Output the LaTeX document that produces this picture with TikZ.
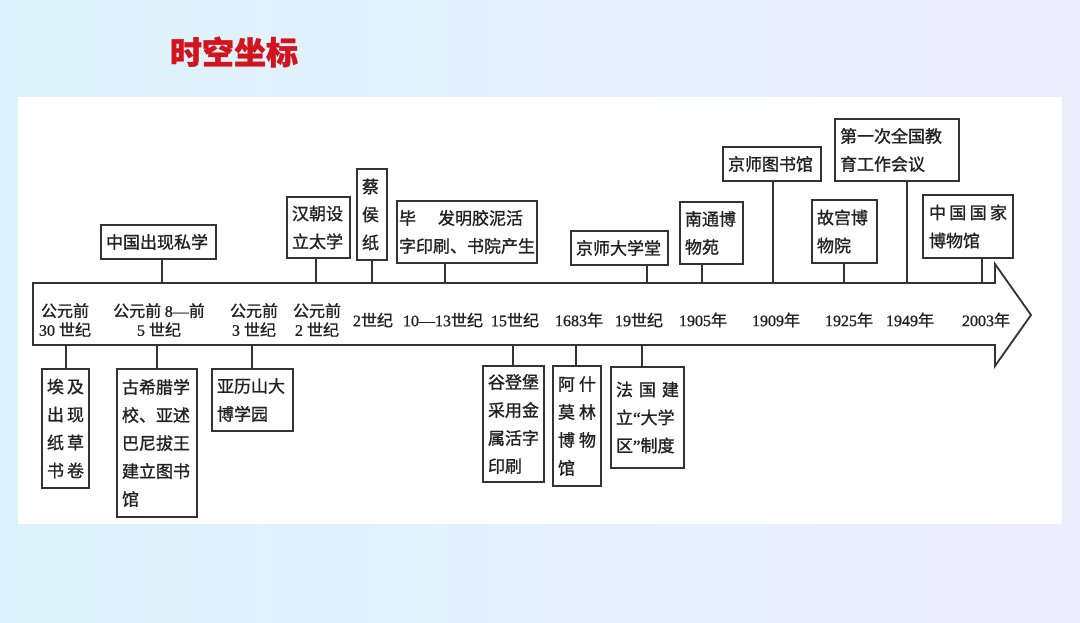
\documentclass[tikz,border=0pt]{standalone}
\usepackage{fontspec}
\setmainfont{Noto Sans CJK SC}[FakeBold=1.2]
\newfontfamily\lat{Liberation Serif}[FakeBold=1.0]
\definecolor{ln}{HTML}{333333}
\definecolor{tx}{HTML}{222222}
\definecolor{ttl}{HTML}{D4141C}
\definecolor{bgA}{HTML}{DBF3FA}
\definecolor{bgB}{HTML}{EEEDFD}
\newcommand{\twoc}[2]{\makebox[\hsize][s]{#1\hfill{}#2}}
\begin{document}
\begin{tikzpicture}[x=1pt,y=-1pt,
  evt/.style={draw=ln, line width=1.7pt, fill=white, inner xsep=5pt, inner ysep=0pt,
    align=left, text=tx, font=\fontsize{17}{28}\selectfont, anchor=center},
  lbl/.style={align=center, text=tx, font=\fontsize{16}{19}\selectfont, inner sep=0pt},
  conn/.style={draw=ln, line width=1.7pt},
  axisarrow/.style={draw=ln, line width=1.8pt, fill=white, line join=miter}]
\useasboundingbox (0,0) rectangle (1080,623);
\shade[left color=bgA, right color=bgB] (0,0) rectangle (1080,623);
\fill[white] (18,97) rectangle (1062,524);
\node[font=\fontsize{32}{36}\selectfont\bfseries, text=ttl, inner sep=0pt] (title) at (234,52) {时空坐标};
% axis arrow
\draw[axisarrow] (33,283) -- (995,283) -- (995,264) -- (1031,315) -- (995,366) -- (995,345) -- (33,345) -- cycle;
% axis labels
\node[lbl] (l1) at (65,320) {公元前\\{\lat 30 }世纪};
\node[lbl] (l2) at (159,320) {公元前 {\lat 8—}前\\{\lat 5 }世纪};
\node[lbl] (l3) at (254,320) {公元前\\{\lat 3 }世纪};
\node[lbl] (l4) at (317,320) {公元前\\{\lat 2 }世纪};
\node[lbl] (l5) at (373,320) {{\lat 2}世纪};
\node[lbl] (l6) at (443,320) {{\lat 10—13}世纪};
\node[lbl] (l7) at (515,320) {{\lat 15}世纪};
\node[lbl] (l8) at (579,320) {{\lat 1683}年};
\node[lbl] (l9) at (639,320) {{\lat 19}世纪};
\node[lbl] (l10) at (703,320) {{\lat 1905}年};
\node[lbl] (l11) at (776,320) {{\lat 1909}年};
\node[lbl] (l12) at (849,320) {{\lat 1925}年};
\node[lbl] (l13) at (910,320) {{\lat 1949}年};
\node[lbl] (l14) at (986,320) {{\lat 2003}年};
% top boxes
\node[evt, minimum width=115, minimum height=34, text width=105] (t1) at (158.5,242) {中国出现私学};
\node[evt, minimum width=63, minimum height=61, text width=53] (t2) at (318.5,227.5) {汉朝设\\立太学};
\node[evt, minimum width=30, minimum height=91, text width=20] (t3) at (372,214.5) {蔡\\侯\\纸};
\node[evt, minimum width=140, minimum height=62, text width=136, inner xsep=2pt] (t4) at (467,232) {毕\hspace{22pt}发明胶泥活\\字印刷、书院产生};
\node[evt, minimum width=97, minimum height=34, text width=87] (t5) at (619.5,248) {京师大学堂};
\node[evt, minimum width=63, minimum height=62, text width=53] (t6) at (711.5,233) {南通博\\物苑};
\node[evt, minimum width=98, minimum height=34, text width=88] (t7) at (772,164) {京师图书馆};
\node[evt, minimum width=65, minimum height=63, text width=55] (t8) at (844.5,231.5) {故宫博\\物院};
\node[evt, minimum width=124, minimum height=62, text width=114] (t9) at (897,150) {第一次全国教\\育工作会议};
\node[evt, minimum width=90, minimum height=63, text width=78, inner xsep=6pt] (t10) at (968,226.5) {\makebox[\hsize][s]{中\hfill{}国\hfill{}国\hfill{}家}\\博物馆};
% bottom boxes
\node[evt, minimum width=47, minimum height=119, text width=37] (b1) at (65.5,428.5) {\twoc{埃}{及}\\\twoc{出}{现}\\\twoc{纸}{草}\\\twoc{书}{卷}};
\node[evt, minimum width=80, minimum height=148, text width=70] (b2) at (157,443) {古希腊学\\校、亚述\\巴尼拔王\\建立图书\\馆};
\node[evt, minimum width=81, minimum height=62, text width=71] (b3) at (252.5,400) {亚历山大\\博学园};
\node[evt, minimum width=61, minimum height=116, text width=51] (b4) at (513.5,424) {谷登堡\\采用金\\属活字\\印刷};
\node[evt, minimum width=48, minimum height=120, text width=38] (b5) at (577,426) {\twoc{阿}{什}\\\twoc{莫}{林}\\\twoc{博}{物}\\馆};
\node[evt, minimum width=73, minimum height=101, text width=63] (b6) at (647.5,417.5) {\makebox[\hsize][s]{法\hfill{}国\hfill{}建}\\立{\lat “}大学\\区{\lat ”}制度};
% connector anchors on axis
\coordinate (a1) at (162,283);
\coordinate (a2) at (316,283);
\coordinate (a3) at (372,283);
\coordinate (a4) at (445,283);
\coordinate (a5) at (647,283);
\coordinate (a6) at (702,283);
\coordinate (a7) at (773,283);
\coordinate (a8) at (844,283);
\coordinate (a9) at (907,283);
\coordinate (a10) at (982,283);
\coordinate (c1) at (66,345);
\coordinate (c2) at (157,345);
\coordinate (c3) at (252,345);
\coordinate (c4) at (513,345);
\coordinate (c5) at (576,345);
\coordinate (c6) at (642,345);
\foreach \i in {1,...,10} {\draw[conn] (t\i.south -| a\i) -- (a\i);}
\foreach \i in {1,...,6} {\draw[conn] (c\i) -- (c\i |- b\i.north);}
\end{tikzpicture}
\end{document}
